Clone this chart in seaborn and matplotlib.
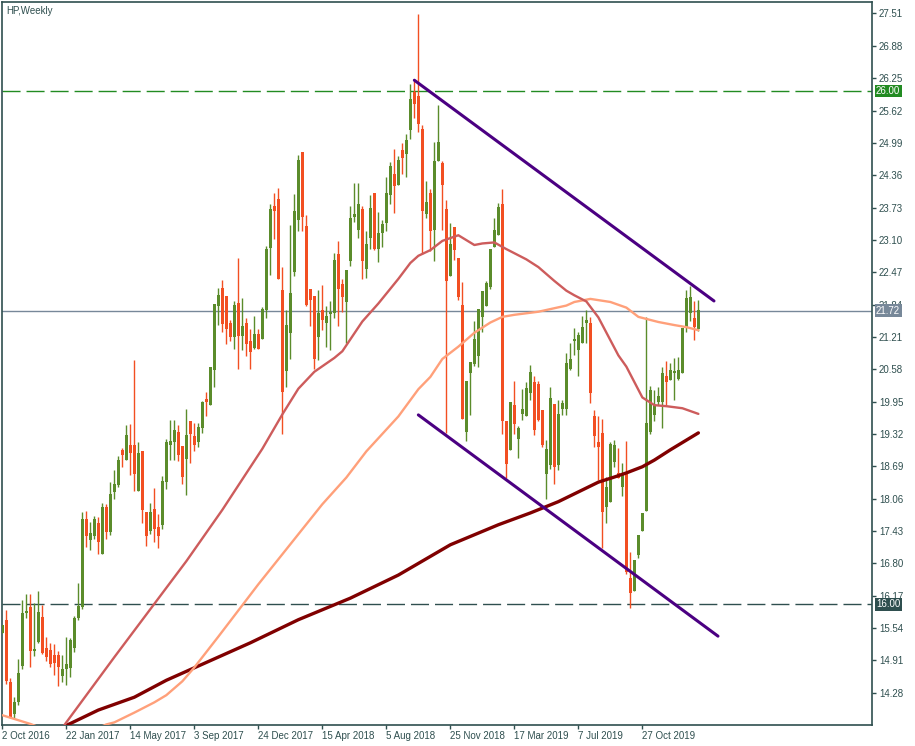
import numpy as np
import pandas as pd
import matplotlib
matplotlib.use("Agg")
import matplotlib.pyplot as plt
import seaborn as sns

# Weekly candles, first bar = week of 2 Oct 2016
opens = [15.45, 15.69, 14.49, 13.86, 14.10, 14.80, 15.83, 15.95, 15.09, 15.27,
         15.75, 15.14, 15.11, 15.01, 15.01, 14.61, 14.74, 14.75, 15.14, 15.73,
         15.95, 17.66, 17.26, 17.34, 17.58, 16.99, 17.90, 17.40, 18.19, 18.32,
         19.01, 18.81, 19.10, 19.10, 18.21, 18.99, 17.80, 17.42, 17.85, 17.51,
         17.55, 18.39, 19.10, 19.16, 19.36, 19.08, 18.83, 19.57, 19.28, 19.16,
         19.44, 20.00, 19.88, 20.57, 21.82, 22.16, 22.01, 21.48, 21.21, 21.87,
         21.23, 21.48, 21.13, 20.99, 21.27, 21.17, 21.73, 22.95, 23.76, 23.90,
         22.12, 20.55, 21.29, 22.47, 23.49, 24.81, 23.37, 22.14, 22.01, 21.21,
         21.73, 21.49, 21.66, 21.68, 22.83, 22.25, 21.88, 22.68, 23.55, 23.29,
         23.70, 22.54, 23.14, 24.01, 22.93, 23.23, 23.43, 23.98, 24.38, 24.16,
         24.85, 24.78, 25.24, 25.98, 25.90, 25.26, 23.61, 24.01, 23.30, 24.64,
         24.60, 23.70, 22.40, 23.35, 22.75, 21.83, 19.36, 20.51, 20.69, 20.84,
         21.60, 21.82, 22.18, 22.97, 23.20, 23.80, 19.58, 19.01, 19.88, 19.23,
         19.70, 19.66, 20.12, 20.33, 20.29, 19.79, 18.54, 18.71, 19.90, 18.71,
         19.81, 19.81, 20.59, 21.13, 20.95, 21.09, 21.48, 21.48, 19.66, 19.16,
         19.34, 17.90, 17.99, 18.77, 18.55, 18.29, 18.55, 16.51, 16.25, 16.96,
         17.42, 17.82, 19.36, 19.69, 19.95, 19.95, 20.45, 20.37, 20.51, 20.39,
         20.51, 21.38, 21.67, 21.57, 21.36]
highs = [15.60, 15.89, 14.56, 14.19, 14.93, 16.08, 16.20, 16.20, 16.02, 16.26,
         15.99, 15.37, 15.24, 15.23, 15.09, 15.01, 15.36, 15.34, 15.77, 16.42,
         17.80, 17.82, 17.60, 17.73, 17.71, 17.98, 17.95, 18.38, 18.62, 18.88,
         19.05, 19.49, 19.51, 20.76, 19.16, 18.99, 17.80, 17.97, 18.26, 17.75,
         18.50, 19.23, 19.59, 19.59, 19.49, 19.08, 19.81, 19.57, 19.53, 19.54,
         19.96, 20.14, 20.62, 21.85, 22.16, 22.32, 22.01, 21.54, 21.91, 22.75,
         21.97, 21.58, 21.36, 21.62, 21.36, 21.79, 22.98, 23.80, 24.01, 24.11,
         22.57, 21.73, 23.39, 23.99, 24.75, 24.81, 23.58, 22.14, 22.01, 22.12,
         22.22, 21.81, 21.91, 22.84, 23.08, 22.33, 22.51, 23.76, 24.21, 24.21,
         23.76, 23.27, 23.97, 24.01, 23.64, 23.49, 24.33, 24.62, 24.87, 24.73,
         24.99, 25.16, 26.14, 26.20, 27.50, 25.34, 24.25, 24.10, 25.01, 25.73,
         24.64, 23.88, 23.43, 23.35, 22.75, 22.28, 20.35, 20.72, 21.52, 21.75,
         22.10, 22.30, 22.92, 23.53, 23.82, 24.09, 19.58, 19.95, 20.35, 19.48,
         20.20, 20.33, 20.66, 20.45, 20.35, 19.79, 19.21, 20.23, 19.90, 19.98,
         19.98, 20.89, 21.09, 21.38, 21.31, 21.62, 21.73, 21.59, 19.79, 19.66,
         19.61, 18.49, 19.16, 19.20, 19.05, 18.75, 19.18, 17.01, 16.86, 17.35,
         17.78, 21.60, 20.25, 20.18, 20.24, 20.63, 20.74, 20.70, 20.80, 20.82,
         21.38, 22.12, 22.20, 21.90, 21.93]
lows = [15.45, 14.45, 13.78, 13.79, 14.03, 14.74, 15.73, 14.77, 15.00, 15.24,
        15.03, 14.90, 14.77, 14.62, 14.40, 14.49, 14.43, 14.59, 15.08, 15.69,
        15.90, 17.12, 17.06, 17.27, 16.99, 16.99, 17.28, 17.36, 18.06, 18.29,
        18.68, 18.81, 18.51, 18.21, 18.21, 17.59, 17.14, 17.37, 17.22, 17.10,
        17.46, 18.25, 18.81, 18.81, 18.79, 18.34, 18.13, 18.76, 18.99, 19.07,
        19.34, 19.67, 19.88, 20.24, 21.44, 21.31, 21.07, 21.13, 20.97, 20.58,
        20.95, 20.84, 20.58, 20.97, 20.98, 21.17, 21.58, 22.42, 23.12, 22.34,
        19.31, 20.24, 20.78, 22.40, 23.27, 23.27, 21.81, 21.43, 20.58, 20.76,
        21.34, 21.02, 20.95, 21.58, 21.43, 21.70, 21.09, 22.59, 23.44, 23.14,
        22.33, 22.36, 22.93, 22.90, 22.66, 22.97, 23.27, 23.79, 23.62, 24.16,
        24.39, 24.33, 25.07, 25.48, 25.21, 22.83, 23.53, 22.89, 22.69, 24.64,
        23.30, 19.33, 22.40, 22.71, 21.92, 19.61, 19.19, 19.69, 20.65, 20.63,
        21.31, 21.82, 22.14, 22.97, 23.20, 19.32, 18.47, 19.01, 19.32, 18.86,
        19.60, 19.66, 19.98, 19.29, 19.58, 19.07, 18.05, 18.64, 18.34, 18.62,
        19.69, 19.69, 20.57, 20.86, 20.45, 21.09, 21.09, 19.93, 19.07, 18.42,
        17.10, 17.59, 17.99, 18.68, 18.47, 18.11, 16.60, 15.93, 16.25, 16.90,
        17.42, 17.82, 19.32, 19.58, 19.88, 19.43, 19.88, 20.37, 19.99, 20.37,
        20.51, 21.31, 21.51, 21.15, 21.33]
closes = [15.60, 14.51, 13.81, 14.10, 14.66, 15.83, 15.87, 15.10, 15.13, 15.85,
          15.06, 14.98, 14.84, 14.85, 14.77, 14.74, 14.84, 15.31, 15.73, 15.97,
          17.66, 17.34, 17.39, 17.66, 17.22, 17.90, 17.40, 18.15, 18.34, 18.81,
          18.90, 19.30, 18.94, 18.54, 18.95, 17.84, 17.34, 17.80, 17.47, 17.34,
          18.41, 19.16, 19.18, 19.39, 18.90, 18.49, 19.30, 19.32, 19.10, 19.45,
          19.94, 19.94, 20.62, 21.85, 22.03, 21.46, 21.37, 21.21, 21.83, 21.23,
          21.42, 21.08, 20.92, 21.27, 20.98, 21.75, 22.92, 23.70, 23.66, 22.34,
          20.14, 21.44, 22.07, 23.66, 24.66, 23.55, 21.83, 21.92, 20.78, 21.68,
          21.53, 21.62, 21.70, 22.71, 22.14, 21.99, 22.51, 23.53, 23.60, 23.80,
          22.68, 23.01, 23.72, 22.92, 23.23, 23.41, 24.01, 24.54, 24.14, 24.66,
          24.70, 25.05, 25.85, 25.75, 25.36, 23.67, 23.84, 23.28, 24.64, 25.01,
          24.16, 22.29, 23.02, 22.90, 21.99, 19.62, 20.35, 20.72, 21.17, 21.75,
          22.10, 22.26, 22.92, 23.29, 23.74, 19.58, 18.74, 19.95, 19.51, 19.44,
          19.81, 20.21, 20.53, 19.40, 19.59, 19.10, 19.03, 20.02, 18.68, 19.71,
          19.92, 20.70, 20.78, 21.17, 21.25, 21.41, 21.53, 20.12, 19.27, 19.07,
          17.79, 18.29, 19.12, 19.10, 18.47, 18.53, 16.62, 16.23, 16.86, 17.35,
          17.78, 19.53, 20.18, 19.88, 20.06, 20.50, 20.34, 20.57, 20.55, 20.57,
          21.38, 21.96, 21.99, 21.41, 21.73]

# moving averages (week index, value)
ma_fast_idx = [12, 16, 28, 46, 55, 65, 70, 74, 78, 83, 85, 90, 94, 99, 102, 104,
               107, 110, 114, 118, 120, 123, 126, 131, 134, 138, 141, 143, 146,
               149, 154, 156, 160, 163, 166, 170, 174]
ma_fast_val = [13.26, 13.70, 14.97, 16.84, 17.84, 19.03, 19.70, 20.20, 20.53,
               20.80, 20.93, 21.51, 21.86, 22.34, 22.65, 22.79, 22.90, 23.08,
               23.19, 23.00, 23.03, 23.05, 22.92, 22.72, 22.57, 22.30, 22.11,
               22.02, 21.90, 21.59, 20.85, 20.63, 20.03, 19.88, 19.86, 19.82, 19.71]
ma_mid_idx = [0, 7, 12, 17, 22, 26, 28, 33, 38, 41, 45, 48, 54, 64, 72, 80, 86,
              91, 99, 104, 107, 110, 114, 118, 122, 125, 128, 134, 141, 143, 147,
              152, 156, 159, 164, 168, 171, 174]
ma_mid_val = [13.84, 13.67, 13.52, 13.45, 13.52, 13.66, 13.70, 13.89, 14.09,
              14.23, 14.50, 14.77, 15.37, 16.39, 17.17, 17.95, 18.47, 18.98,
              19.66, 20.19, 20.43, 20.78, 21.02, 21.29, 21.49, 21.60, 21.64,
              21.70, 21.82, 21.89, 21.95, 21.89, 21.78, 21.60, 21.50, 21.44,
              21.40, 21.34]
ma_slow_idx = [12, 16, 24, 33, 41, 62, 74, 87, 99, 112, 124, 132, 139, 144, 149,
               153, 156, 160, 163, 167, 174]
ma_slow_val = [13.50, 13.64, 13.94, 14.19, 14.52, 15.25, 15.70, 16.12, 16.57,
               17.16, 17.55, 17.78, 18.00, 18.19, 18.38, 18.48, 18.56, 18.68,
               18.81, 19.01, 19.34]

# channel lines (week index, price)
upper_idx = [103, 177.9]
upper_val = [26.21, 21.91]
lower_idx = [104, 178.9]
lower_val = [19.69, 15.38]

levels = [26.00, 16.00]
bid = 21.72

yticks = [27.51, 26.88, 26.25, 25.62, 24.99, 24.36, 23.73, 23.10, 22.47, 21.84,
          21.21, 20.58, 19.95, 19.32, 18.69, 18.06, 17.43, 16.80, 16.17, 15.54,
          14.91, 14.28]
xtick_idx = [0, 16, 32, 48, 64, 80, 96, 112, 128, 144, 160]

dates = pd.date_range("2016-10-02", periods=len(opens), freq="7D")
xtick_labels = [f"{dates[i].day} {dates[i]:%b %Y}" for i in xtick_idx]

sns.set_style("white")
plt.rcParams["font.family"] = ["Liberation Sans", "DejaVu Sans"]

frame = "#2F4F4F"
bull = "#5B8C2B"
bear = "#F24F22"

fig = plt.figure(figsize=(9.15, 7.46), dpi=100)
ax = fig.add_axes([2 / 915, 21 / 746, 870 / 915, 723 / 746])

df = pd.DataFrame({"o": opens, "h": highs, "l": lows, "c": closes})
df["i"] = np.arange(len(df))
up = df["c"] >= df["o"]
cols = np.where(up, bull, bear)

# wicks and bodies
ax.vlines(df["i"], df["l"], df["h"], colors=cols, lw=1.0, zorder=3)
body_lo = np.minimum(df["o"], df["c"])
body_h = np.maximum((df["c"] - df["o"]).abs(), 0.03)
ax.bar(df["i"], body_h, bottom=body_lo, width=0.62, color=cols,
       linewidth=0, zorder=4)

# moving averages
sns.lineplot(x=ma_slow_idx, y=ma_slow_val, ax=ax, color="#800000", lw=2.4, zorder=5)
sns.lineplot(x=ma_mid_idx, y=ma_mid_val, ax=ax, color="#FFA07A", lw=1.7, zorder=5)
sns.lineplot(x=ma_fast_idx, y=ma_fast_val, ax=ax, color="#CD5C5C", lw=1.7, zorder=5)

# channel
ax.plot(upper_idx, upper_val, color="#4B0082", lw=2.2, zorder=6)
ax.plot(lower_idx, lower_val, color="#4B0082", lw=2.2, zorder=6)

# horizontal levels
ax.axhline(levels[0], color="#228B22", lw=1.0, ls=(0, (13, 4.3)), zorder=2)
ax.axhline(levels[1], color=frame, lw=1.0, ls=(0, (13, 4.3)), zorder=2)
ax.axhline(bid, color="#778899", lw=1.0, zorder=2)

ax.set_xlim(-0.075, 217.4)
ax.set_ylim(13.649, 27.734)

ax.yaxis.tick_right()
ax.set_yticks(yticks)
ax.set_yticklabels([f"{v:.2f}" for v in yticks])
ax.set_xticks(xtick_idx)
ax.set_xticklabels(xtick_labels, ha="left")
ax.tick_params(axis="both", direction="out", length=3, width=1, pad=2,
               labelsize=7, colors=frame, labelcolor=frame)
ax.tick_params(axis="y", left=False, right=True)
ax.tick_params(axis="x", bottom=True, pad=1)

for s in ax.spines.values():
    s.set_color(frame)
    s.set_linewidth(1.2)

box_specs = [(levels[0], "#228B22"), (levels[1], frame), (bid, "#778899")]
for val, bg in box_specs:
    ax.text(1.0046, val, f"{val:.2f}", transform=ax.get_yaxis_transform(),
            ha="left", va="center", fontsize=7, color="white", zorder=10,
            bbox=dict(boxstyle="square,pad=0.15", fc=bg, ec="none"))

ax.text(0.005, 0.994, "HP,Weekly", transform=ax.transAxes, ha="left", va="top",
        fontsize=7, color=frame)

ax.set_xlabel("")
ax.set_ylabel("")

plt.savefig("out.png", dpi=100)
